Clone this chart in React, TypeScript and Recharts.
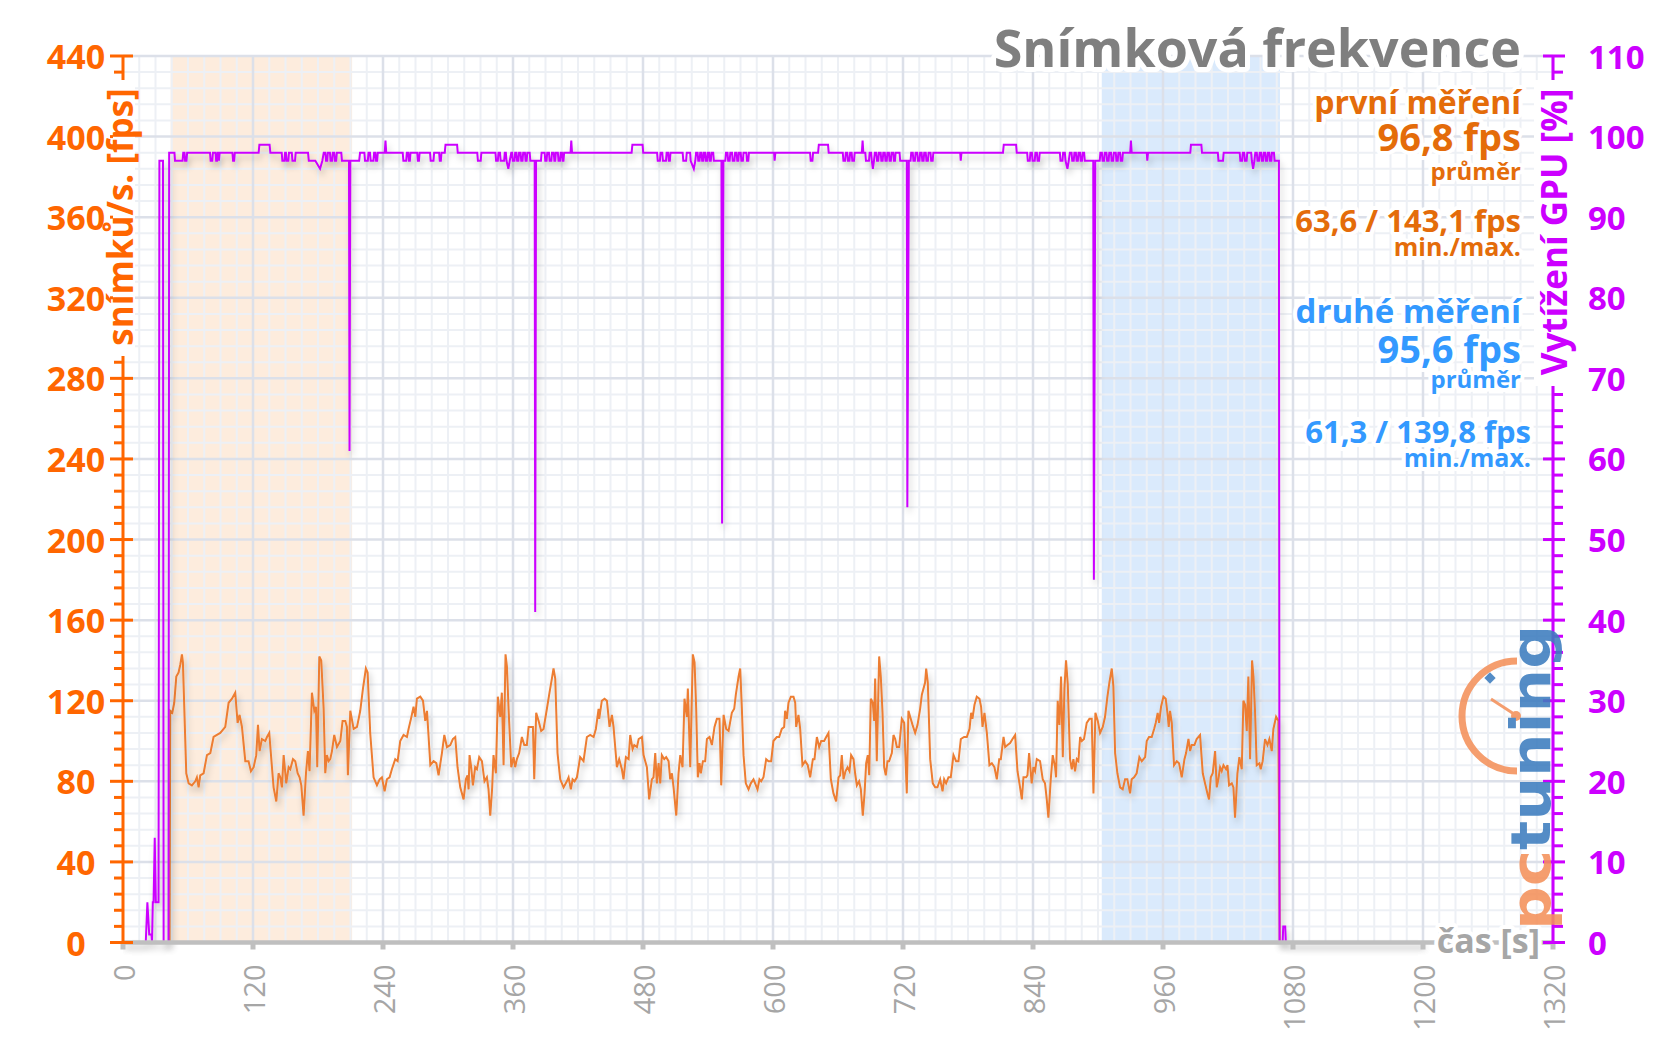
import React from 'react';
import { LineChart, Line, XAxis, YAxis, ReferenceArea, ReferenceLine } from 'recharts';

// ---------- data ----------
const xTicks = [0, 120, 240, 360, 480, 600, 720, 840, 960, 1080, 1200, 1320];
const leftTicks = Array.from({ length: 56 }, (_, i) => i * 8);
const rightTicks = Array.from({ length: 56 }, (_, i) => i * 2);
const xMinorGrid = Array.from({ length: 89 }, (_, i) => i * 15);
const yMinorGrid = Array.from({ length: 56 }, (_, i) => i * 8);

const firstRun = [44, 211.5];
const secondRun = [903.5, 1068];

// fps: [time s, fps]
const fpsPoints: [number, number][] = [
  [0, 0], [43, 0],
  [43.6, 115], [45.5, 114], [47.3, 119], [49.2, 132], [51.3, 134], [52.9, 138], [54.4, 143], [55.3, 139], [58.4, 84], [60.6, 79], [63.6, 78], [66.7, 80], [68.2, 82], [69.8, 77], [71.3, 83], [74.4, 84], [77.5, 93], [80.6, 94], [83.6, 102], [86.7, 103], [89.8, 104], [92.9, 106], [94.4, 107], [97.5, 119], [100.6, 121], [103.6, 124], [105.8, 109], [107.6, 113], [109.8, 107], [112.9, 90], [115.9, 90], [118.1, 85], [120.6, 87], [123, 93], [124.6, 108], [126.1, 95], [128.2, 101], [131.3, 100], [132.9, 102], [135, 104], [137.5, 87], [139, 77], [141.5, 70], [143.6, 84], [145.2, 82], [146.7, 77], [148.3, 93], [150.7, 79], [152.9, 87], [154.4, 86], [156.9, 91], [159, 90], [161.2, 84], [163, 82], [164.6, 78], [166.7, 63], [168.9, 84], [170.7, 95], [172.2, 85], [174.4, 124], [176.6, 115], [178.1, 117], [179.3, 87], [181.2, 142], [183, 140], [185.2, 116], [186.7, 84], [188.2, 93], [189.8, 90], [191.3, 91], [192.9, 95], [195, 103], [197.5, 97], [200.6, 100], [202.7, 110], [205.2, 110], [206.7, 107], [207.6, 83], [209.8, 115], [212.9, 106], [216, 107], [219, 115], [221.5, 126], [224.2, 136], [225.8, 134], [228.2, 104], [231.3, 82], [234.4, 78], [236.9, 81], [239, 82], [241.5, 75], [243.6, 81], [246.1, 82], [248.2, 86], [251.3, 91], [253.5, 90], [255.9, 100], [259, 103], [262.1, 102], [263.6, 106], [265.8, 111], [268.2, 117], [269.8, 112], [271.3, 121], [274.4, 122], [276.9, 120], [279, 110], [280.6, 115], [283.7, 88], [286.7, 90], [289.2, 89], [291.3, 83], [294.4, 94], [296.6, 103], [299, 97], [302.1, 98],
  [304.5, 101], [306.7, 102], [308.8, 87], [311.3, 77], [314.4, 71], [316.5, 81], [318, 83], [319, 76], [319.9, 93], [321.4, 87], [323, 78], [325.1, 87], [326.7, 86], [328.8, 92], [331.3, 90], [333.7, 80], [335.9, 82], [337.4, 76], [339, 63], [340.8, 77], [342, 93], [344.2, 84], [346, 122], [348.2, 112], [349.7, 124], [351.3, 88], [353.1, 143], [354.4, 137], [355.9, 116], [358.4, 87], [360.5, 92], [362, 87], [363.6, 91], [365.7, 94], [368.2, 102], [370.4, 98], [372.8, 98], [374.4, 107], [376.8, 107], [378.4, 107], [379.6, 81], [381.4, 114], [383.6, 110], [386, 105], [388.2, 106], [391.3, 116], [393.7, 124], [395.9, 131], [397.4, 136], [399, 131], [401.1, 94], [403.6, 81], [406.7, 77], [409.7, 80], [411.3, 82], [413.4, 76], [415, 81], [416.8, 80], [419, 82], [422, 92], [425.1, 90], [428.2, 102], [431.3, 103], [434.4, 102], [436.5, 106], [439, 116], [439.6, 111], [442, 120], [444.5, 121], [446.7, 120], [449.1, 107], [451.3, 113], [452.8, 107], [455.9, 87], [458, 91], [460.5, 86], [462, 81], [464.2, 92], [466.7, 91], [468.2, 103], [470.4, 96], [471.9, 98], [474.4, 97], [476, 101], [479, 102], [480.5, 93], [483.6, 87], [485.7, 71], [488.2, 81], [489.7, 82], [491.3, 94], [492.8, 79], [494.4, 89], [495.9, 79], [497.4, 93], [499.6, 91], [501.4, 92], [503.6, 90], [505.1, 81], [506.7, 84], [508.2, 77], [510.7, 63], [512.8, 84], [514.4, 93], [516.5, 87], [518.3, 121], [520.5, 112], [521.4, 126], [523.6, 87], [526, 143], [527.6, 139], [529.1, 116], [530.6, 82], [532.2, 89], [533.4, 84], [535.3, 90], [537.4, 90], [539, 101], [541.4, 102], [543.6, 98], [546, 107], [548.2, 111], [550.6, 111], [552.2, 78], [554.4, 113], [556.8, 106], [559, 105], [562, 114], [564.2, 116], [565.7, 123], [568.2, 132],
  [569.7, 136], [571.2, 117], [572.8, 93], [574.9, 79], [577.4, 76], [579.5, 79], [582, 81], [583.5, 79], [585.7, 76], [587.5, 81], [589.1, 80], [591.2, 82], [593.7, 91], [595.8, 90], [598.3, 90], [600.4, 100], [603.5, 102], [605.7, 102], [608.1, 106], [610.3, 107], [611.2, 115], [612.8, 111], [614.3, 119], [616.5, 122], [618.9, 122], [620.5, 119], [621.4, 107], [623.5, 113], [625.1, 106], [627.2, 88], [629.7, 90], [632.1, 88], [634.3, 82], [636.8, 91], [638.3, 91], [640.5, 102], [642.6, 97], [644.5, 100], [647.2, 100], [649.1, 102], [651.2, 104], [653.4, 81], [655.8, 74], [658.3, 70], [660.5, 82], [662, 83], [663.5, 93], [665.1, 81], [666.9, 85], [668.8, 87], [670.6, 85], [672.1, 93], [674.3, 91], [675.8, 84], [677.4, 78], [679.5, 80], [681.1, 76], [682.9, 63], [684.5, 74], [686, 89], [687.5, 93], [688.8, 83], [690.3, 121], [692.1, 119], [693.4, 110], [694.3, 131], [695.8, 90], [698, 142], [699.5, 132], [701.1, 114], [702.6, 87], [704.1, 83], [705.7, 90], [707.2, 90], [709.7, 94], [711.2, 103], [712.8, 101], [714.3, 97], [716.5, 97], [718.9, 111], [721.1, 109], [723.5, 74], [725, 115], [726.6, 112], [728.8, 108], [731.2, 104], [733.4, 108], [735.8, 116], [737.4, 123], [740.4, 129], [741.4, 136], [742.9, 129], [745.1, 91], [747.5, 79], [749.7, 77], [751.8, 77], [754.3, 81], [756.5, 75], [758, 81], [759.8, 79], [762, 82], [764.1, 82], [766.6, 93], [769, 90], [771.2, 90], [773.4, 101], [776.4, 102], [778.9, 102], [781.4, 106], [782.9, 114], [784.1, 111], [786, 118], [788.1, 122], [790.6, 121], [792.1, 117], [793.4, 107], [795.2, 114], [797.4, 104], [799.8, 88], [802, 89], [804.4, 87], [806.6, 81], [808.8, 91], [810.3, 91], [812.8, 102], [814.3, 97], [816.5, 98], [818.9, 99], [821.1, 101], [823.5, 103], [825.7, 85], [827.5, 79], [829.7, 71], [831.2, 82], [833.7, 82], [834.9, 83], [836.4, 94],
  [838.8, 79], [840.4, 87], [841.9, 85], [843.5, 91], [846.5, 90], [849, 81], [851.1, 79], [852.7, 71], [854.2, 62], [856.4, 81], [858.2, 93], [860.4, 87], [861.3, 82], [862.8, 120], [864.4, 108], [865.9, 132], [867.5, 92], [869, 126], [870.5, 140], [872.1, 128], [874.2, 91], [875.8, 86], [877.3, 91], [878.8, 85], [880.4, 91], [881.9, 90], [883.5, 102], [885, 100], [887.1, 101], [889.6, 109], [892.1, 111], [894.2, 111], [895.8, 74], [897.6, 114], [899.8, 110], [901.9, 104], [904.4, 107], [906.5, 112], [908.7, 122], [910.5, 129], [912.7, 136], [914.2, 127], [915.8, 94], [917.9, 84], [920.4, 77], [922.8, 76], [925, 81], [927.1, 81], [929.6, 74], [931.1, 81], [933.3, 82], [935.7, 84], [938.2, 92], [940.4, 90], [943.5, 92], [945, 100], [947.1, 102], [949.6, 102], [951.8, 106], [953.3, 109], [955.1, 114], [956.4, 109], [958.2, 117], [960.4, 122], [962.5, 121], [964.1, 114], [965.3, 107], [966.5, 115], [968.1, 109], [970.2, 88], [972.7, 90], [974.8, 89], [977.3, 82], [979.8, 91], [981.3, 94], [983.5, 101], [985, 95], [986.5, 98], [989, 98], [991.1, 101], [994.2, 103], [996.7, 84], [998.8, 79], [1001, 74], [1002.5, 71], [1004.1, 82], [1005.9, 84], [1008.1, 95], [1009.6, 77], [1011.1, 81], [1012.7, 87], [1014.2, 85], [1015.8, 88], [1018.2, 86], [1019.5, 88], [1021, 78], [1023.5, 79], [1025, 77], [1026.5, 62], [1028.7, 84], [1030.5, 92], [1032.7, 86], [1034.2, 120], [1035.8, 118], [1037.3, 105], [1038.8, 132], [1040.4, 91], [1042.2, 140], [1043.5, 132], [1045, 114], [1046.5, 88], [1049, 89], [1050.2, 86], [1052, 90], [1054.2, 101], [1056.4, 98], [1058.2, 101], [1060.4, 95], [1061.9, 106], [1064.4, 112], [1066.5, 110], [1067.8, 0], [1200, 0],
];

// GPU load: [time s, %]
const gpuPoints: [number, number][] = [
  [0, 0], [21, 0], [22.5, 5], [24.2, 1], [26.3, 1], [26.8, 0], [27.5, 5], [28.2, 5], [29.3, 13], [30.3, 5], [32.8, 5], [33.6, 97], [36.9, 97], [37.5, 0], [42, 0],
  [42.6, 98], [47.5, 98], [48, 97], [55, 97], [55.6, 98], [56.8, 98], [57.3, 97], [58.6, 97], [59.2, 98],
  [80.3, 98], [80.9, 97], [82.4, 97], [83, 98], [85.4, 98], [86, 97], [86.8, 97], [87.4, 98], [88, 98], [88.6, 97], [89.2, 98],
  [101, 98], [101.6, 97], [102.6, 97], [103.2, 98], [125.2, 98], [125.9, 99], [135.3, 99], [136, 98],
  [146.5, 98], [147.1, 97], [149, 97], [149.6, 98], [150.4, 98], [151, 97], [152.6, 97], [153.2, 98], [155.8, 98], [156.4, 97], [158.8, 97], [159.4, 98],
  [170.8, 98], [171.5, 97], [177.5, 97], [181.9, 96], [184, 97], [185.3, 98], [186.8, 98], [187.4, 97], [188.5, 97], [189.1, 98], [191, 98], [191.6, 97], [193, 97], [193.6, 98], [195, 98], [195.6, 97], [196.8, 97], [197.4, 98], [201.5, 98], [202.1, 97], [208.6, 97], [209.1, 61], [209.8, 97],
  [218, 97], [218.8, 98], [222.8, 98], [223.4, 97], [226, 97], [226.6, 98], [228, 98], [228.6, 97], [231.2, 97], [231.8, 98], [233, 98], [233.6, 97], [234.6, 97], [235.2, 98],
  [241.6, 98], [242.3, 99.5], [243, 98],
  [258.2, 98], [258.8, 97], [261.4, 97], [262, 98], [263.3, 98], [263.9, 97], [264.8, 97], [265.4, 98], [271.6, 98], [272.2, 97], [273.2, 97], [273.8, 98], [283.4, 98], [284, 97], [286.6, 97], [287.2, 98], [291.8, 98], [292.4, 97], [293.4, 97], [294, 98],
  [297, 98], [297.7, 99], [308.4, 99], [309, 98], [327, 98], [327.6, 97], [330.2, 97], [330.8, 98],
  [343.8, 98], [344.4, 97], [346, 97], [346.6, 98], [348, 98], [348.6, 97], [351.8, 97], [352.4, 98], [353.4, 98], [354, 97], [355.7, 96], [357, 97], [358.4, 98], [359.2, 98], [359.8, 97], [361.4, 97], [362, 98], [363.2, 98], [363.8, 97], [365, 97], [365.6, 98], [367, 98], [367.6, 97], [368.8, 97], [369.4, 98], [371, 98], [371.6, 97], [372.6, 97], [373.2, 98], [375.4, 98], [376, 97], [380, 97], [380.5, 41], [381.3, 97],
  [385.8, 97], [386.4, 98], [389.2, 98], [389.8, 97], [391, 97], [391.6, 98], [393.2, 98], [393.8, 97], [395.4, 97], [396, 98], [397.6, 98], [398.2, 97], [399, 97], [399.6, 98], [401.4, 98], [402, 97], [403.4, 97], [404, 98], [405.2, 98], [405.8, 97], [406.6, 97], [407.2, 98],
  [413.1, 98], [413.8, 99.5], [414.5, 98], [469.5, 98], [470.2, 99], [479.6, 99], [480.2, 98],
  [493, 98], [493.6, 97], [495.6, 97], [496.2, 98], [497.8, 98], [498.4, 97], [501.2, 97], [501.8, 98], [503.2, 98], [503.8, 97], [504.8, 97], [505.4, 98], [516.6, 98], [517.2, 97], [519.8, 97], [520.4, 98], [523.5, 98], [524, 97], [526.9, 96], [528.3, 97], [529, 98], [530.4, 98], [531, 97], [532.2, 97], [532.8, 98], [534, 98], [534.6, 97], [535.6, 97], [536.2, 98], [537.4, 98], [538, 97], [539.2, 97], [539.8, 98], [541, 98], [541.6, 97], [542.6, 97], [543.2, 98], [544.8, 98], [545.4, 97], [552.4, 97], [553, 52], [554.2, 97],
  [556, 97], [556.6, 98], [558, 98], [558.6, 97], [560, 97], [560.6, 98], [562.2, 98], [562.8, 97], [564.4, 97], [565, 98], [566.4, 98], [567, 97], [568, 97], [568.6, 98], [570.2, 98], [570.8, 97], [572.2, 97], [572.8, 98], [575.4, 98], [576, 97], [577.2, 97], [577.8, 98],
  [601, 98], [601.5, 97], [602.2, 98], [634.2, 98], [634.8, 97], [636.4, 97], [637, 98], [641.6, 98], [642.3, 99], [650.8, 99], [651.4, 98],
  [664.4, 98], [665, 97], [666.6, 97], [667.2, 98], [668.6, 98], [669.2, 97], [670.6, 97], [671.2, 98], [672.6, 98], [673.2, 97], [674.8, 97], [675.4, 98],
  [682, 98], [682.7, 99.5], [683.4, 98],
  [685.2, 98], [685.8, 97], [688.6, 97], [689.2, 98], [690.6, 98], [691.2, 97], [692.2, 96], [693.2, 97], [694, 98], [695.4, 98], [696, 97], [697.2, 97], [697.8, 98], [699.4, 98], [700, 97], [701.2, 97], [701.8, 98], [703.2, 98], [703.8, 97], [705, 97], [705.6, 98], [707, 98], [707.6, 97], [708.8, 97], [709.4, 98], [711, 98], [711.6, 97], [712.6, 97], [713.2, 98], [716.8, 98], [717.4, 97], [723.5, 97], [724, 54], [725.4, 97],
  [727, 97], [727.6, 98], [729, 98], [729.6, 97], [731, 97], [731.6, 98], [733.2, 98], [733.8, 97], [735.2, 97], [735.8, 98], [737.2, 98], [737.8, 97], [739, 97], [739.6, 98], [741, 98], [741.6, 97], [743, 97], [743.6, 98], [745.4, 98], [746, 97], [747.4, 97], [748, 98],
  [772.8, 98], [773.3, 97], [774, 98], [812.3, 98], [813, 99], [824.4, 99], [825, 98],
  [834.6, 98], [835.2, 97], [837, 97], [837.6, 98], [839, 98], [839.6, 97], [841.6, 97], [842.2, 98], [843.6, 98], [844.2, 97], [845.6, 97], [846.2, 98],
  [864.8, 98], [865.4, 97], [867.2, 97], [867.8, 98], [869.4, 98], [870, 97], [871.8, 96], [873, 97], [874, 98], [875.6, 98], [876.2, 97], [877.6, 97], [878.2, 98], [879.6, 98], [880.2, 97], [881.4, 97], [882, 98], [883.4, 98], [884, 97], [885.2, 97], [885.8, 98], [887.2, 98], [887.8, 97], [895.6, 97], [896.2, 45], [897.5, 97],
  [901.6, 97], [902.2, 98], [903.6, 98], [904.2, 97], [905.6, 97], [906.2, 98], [907.8, 98], [908.4, 97], [909.8, 97], [910.4, 98], [912, 98], [912.6, 97], [914, 97], [914.6, 98], [916.4, 98], [917, 97], [918.2, 97], [918.8, 98], [920.4, 98], [921, 97], [922.4, 97], [923, 98],
  [929.7, 98], [930.4, 99.5], [931.1, 98], [945, 98], [945.5, 97], [946.2, 98], [985.2, 98], [985.8, 99], [995.4, 99], [996, 98],
  [1010.6, 98], [1011.2, 97], [1015.4, 97], [1016, 98],
  [1030.8, 98], [1031.4, 97], [1033, 97], [1033.6, 98], [1035, 98], [1035.6, 97], [1037.2, 97], [1037.8, 98], [1041.4, 98], [1042, 97], [1043.2, 96], [1044.4, 97], [1045.2, 98], [1046.6, 98], [1047.2, 97], [1048.6, 97], [1049.2, 98], [1050.6, 98], [1051.2, 97], [1052.4, 97], [1053, 98], [1054.4, 98], [1055, 97], [1056.2, 97], [1056.8, 98], [1058.2, 98], [1058.8, 97], [1060, 97], [1060.6, 98], [1062.4, 98], [1063, 97], [1067, 97], [1067.6, 0], [1070.4, 0], [1071, 2], [1072.8, 2], [1073.4, 0], [1200, 0],
];

const fpsData = fpsPoints.map(([t, v]) => ({ t, fps: v }));
const gpuData = gpuPoints.map(([t, v]) => ({ t, gpu: v }));

// ---------- style ----------
const FONT = '"Open Sans", "DejaVu Sans", sans-serif';
const ORANGE_AXIS = '#FF6600';
const MAGENTA = '#CC00FF';
const FPS_COLOR = '#ED7D31';
const NOTE_ORANGE = '#E46C0A';
const NOTE_BLUE = '#3399FF';
const GRAY = '#A6A6A6';

const LeftTick = (props: any) => {
  const { x, y, payload } = props;
  const v = payload.value;
  const major = v % 40 === 0;
  return (
    <g>
      <line x1={major ? x - 13 : x - 9} x2={major ? x + 10 : x} y1={y} y2={y} stroke={ORANGE_AXIS} strokeWidth={3} />
      {major && (
        <text x={x - 47} y={y} textAnchor="middle" dominantBaseline="central" fill={ORANGE_AXIS}
          fontFamily={FONT} fontWeight={700} fontSize={34}>{v}</text>
      )}
    </g>
  );
};

const RightTick = (props: any) => {
  const { x, y, payload } = props;
  const v = payload.value;
  const major = v % 10 === 0;
  return (
    <g>
      <line x1={major ? x - 10 : x} x2={major ? x + 12 : x + 10} y1={y} y2={y} stroke={MAGENTA} strokeWidth={3} />
      {major && (
        <text x={x + 35} y={y} textAnchor="start" dominantBaseline="central" fill={MAGENTA}
          fontFamily={FONT} fontWeight={700} fontSize={33}>{v}</text>
      )}
    </g>
  );
};

const BottomTick = (props: any) => {
  const { x, y, payload } = props;
  return (
    <text x={x} y={y} transform={`rotate(-90, ${x}, ${y})`} textAnchor="end" dominantBaseline="central"
      fill={GRAY} fontFamily={FONT} fontSize={29}>{payload.value}</text>
  );
};

const halo = { stroke: '#FFFFFF', strokeWidth: 8, strokeLinejoin: 'round' as const, paintOrder: 'stroke' as const };

const Note = ({ x, y, size, color, children }: any) => (
  <text x={x} y={y} textAnchor="end" fill={color} fontFamily={FONT} fontWeight={700} fontSize={size} style={halo}>{children}</text>
);

export default function App() {
  return (
    <div style={{ position: 'relative', width: 1656, height: 1044, background: '#FFFFFF' }}>
      <style>{`body{margin:0;background:#fff;}`}</style>
      <LineChart width={1656} height={1044} margin={{ top: 56, right: 0, bottom: 0, left: 0 }}>
        <XAxis dataKey="t" type="number" domain={[0, 1320]} ticks={xTicks} interval={0} allowDataOverflow
          height={101.5} axisLine={{ stroke: '#BFBFBF', strokeWidth: 4.5 }}
          tickLine={{ stroke: '#BFBFBF', strokeWidth: 5 }} tickSize={7} tickMargin={15} tick={<BottomTick />} />
        <YAxis yAxisId="left" orientation="left" domain={[0, 440]} ticks={leftTicks} interval={0} width={123}
          axisLine={{ stroke: ORANGE_AXIS, strokeWidth: 3 }} tickLine={false} tickSize={0} tickMargin={0} tick={<LeftTick />} />
        <YAxis yAxisId="right" orientation="right" domain={[0, 110]} ticks={rightTicks} interval={0} width={103}
          axisLine={{ stroke: MAGENTA, strokeWidth: 3 }} tickLine={false} tickSize={0} tickMargin={0} tick={<RightTick />} />

        {xMinorGrid.filter((v) => v % 120 !== 0).map((v) => (
          <ReferenceLine key={`xm${v}`} yAxisId="left" x={v} stroke="#EDF0F5" strokeWidth={2} ifOverflow="visible" />
        ))}
        {yMinorGrid.filter((v) => v % 40 !== 0).map((v) => (
          <ReferenceLine key={`ym${v}`} yAxisId="left" y={v} stroke="#EDF0F5" strokeWidth={2} ifOverflow="visible" />
        ))}
        {xTicks.filter((v) => v > 0).map((v) => (
          <ReferenceLine key={`xM${v}`} yAxisId="left" x={v} stroke="#DCE0E9" strokeWidth={2.5} ifOverflow="visible" />
        ))}
        {yMinorGrid.filter((v) => v % 40 === 0 && v > 0).map((v) => (
          <ReferenceLine key={`yM${v}`} yAxisId="left" y={v} stroke="#DCE0E9" strokeWidth={2.5} ifOverflow="visible" />
        ))}

        <ReferenceArea yAxisId="left" x1={firstRun[0]} x2={firstRun[1]} y1={0} y2={440}
          fill="#F8C090" fillOpacity={0.3} stroke="none" ifOverflow="visible" />
        <ReferenceArea yAxisId="left" x1={secondRun[0]} x2={secondRun[1]} y1={0} y2={440}
          fill="#8FC0F5" fillOpacity={0.33} stroke="none" ifOverflow="visible" />

        <Line yAxisId="left" data={fpsData} dataKey="fps" type="linear" stroke={FPS_COLOR} strokeWidth={2}
          dot={false} activeDot={false} isAnimationActive={false} filter="url(#lineShadow)" />
        <Line yAxisId="right" data={gpuData} dataKey="gpu" type="linear" stroke={MAGENTA} strokeWidth={2}
          dot={false} activeDot={false} isAnimationActive={false} filter="url(#lineShadow)" />
      </LineChart>

      <svg width={1656} height={1044} style={{ position: 'absolute', left: 0, top: 0, pointerEvents: 'none' }}>
        <defs>
          <filter id="lineShadow" x="-5%" y="-10%" width="110%" height="130%">
            <feDropShadow dx="2" dy="5" stdDeviation="3" floodColor="#000000" floodOpacity="0.22" />
          </filter>
        </defs>

        {/* axis titles */}
        <rect x={113} y={80} width={22} height={276} fill="#FFFFFF" />
        <text x={133} y={217} transform="rotate(-90, 133, 217)" textAnchor="middle" fill={ORANGE_AXIS}
          fontFamily={FONT} fontWeight={700} fontSize={35}>snímků/s. [fps]</text>
        <rect x={1534} y={80} width={40} height={306} fill="#FFFFFF" />
        <text x={1567} y={232} transform="rotate(-90, 1567, 232)" textAnchor="middle" fill={MAGENTA}
          fontFamily={FONT} fontWeight={700} fontSize={35}>Vytížení GPU [%]</text>
        <text x={1540} y={953} textAnchor="end" fill={GRAY} fontFamily={FONT} fontWeight={700} fontSize={34}
          style={halo}>čas [s]</text>

        {/* title */}
        <text x={1521} y={67} textAnchor="end" fill="#7F7F7F" fontFamily={FONT} fontWeight={700} fontSize={52}
          style={{ ...halo, strokeWidth: 10 }}>Snímková frekvence</text>

        {/* notes */}
        <Note x={1521} y={114} size={32} color={NOTE_ORANGE}>první měření</Note>
        <Note x={1521} y={151} size={38} color={NOTE_ORANGE}>96,8 fps</Note>
        <Note x={1521} y={180} size={24} color={NOTE_ORANGE}>průměr</Note>
        <Note x={1521} y={232} size={31} color={NOTE_ORANGE}>63,6 / 143,1 fps</Note>
        <Note x={1521} y={256} size={25} color={NOTE_ORANGE}>min./max.</Note>
        <Note x={1521} y={323} size={33} color={NOTE_BLUE}>druhé měření</Note>
        <Note x={1521} y={363} size={38} color={NOTE_BLUE}>95,6 fps</Note>
        <Note x={1521} y={388} size={24} color={NOTE_BLUE}>průměr</Note>
        <Note x={1531} y={443} size={31} color={NOTE_BLUE}>61,3 / 139,8 fps</Note>
        <Note x={1531} y={467} size={25} color={NOTE_BLUE}>min./max.</Note>

        {/* watermark logo */}
        <g opacity={0.88}>
          <path d="M 1517 661 A 55 55 0 0 0 1517 771" fill="none" stroke="#F4915B" strokeWidth={7} />
          <line x1={1491} y1={699} x2={1514} y2={714} stroke="#F4915B" strokeWidth={3} />
          <circle cx={1516} cy={716} r={5} fill="#F4915B" />
          <rect x={1486} y={674} width={8} height={8} fill="#3D7DBF" transform="rotate(45, 1490, 678)" />
          <text x={1550} y={930} transform="rotate(-90, 1550, 930)" fontFamily='"DejaVu Sans", sans-serif'
            fontWeight={700} fontSize={56} textLength={305} lengthAdjust="spacingAndGlyphs">
            <tspan fill="#F4915B">pc</tspan>
            <tspan fill="#3D7DBF">tuning</tspan>
          </text>
        </g>
      </svg>
    </div>
  );
}
